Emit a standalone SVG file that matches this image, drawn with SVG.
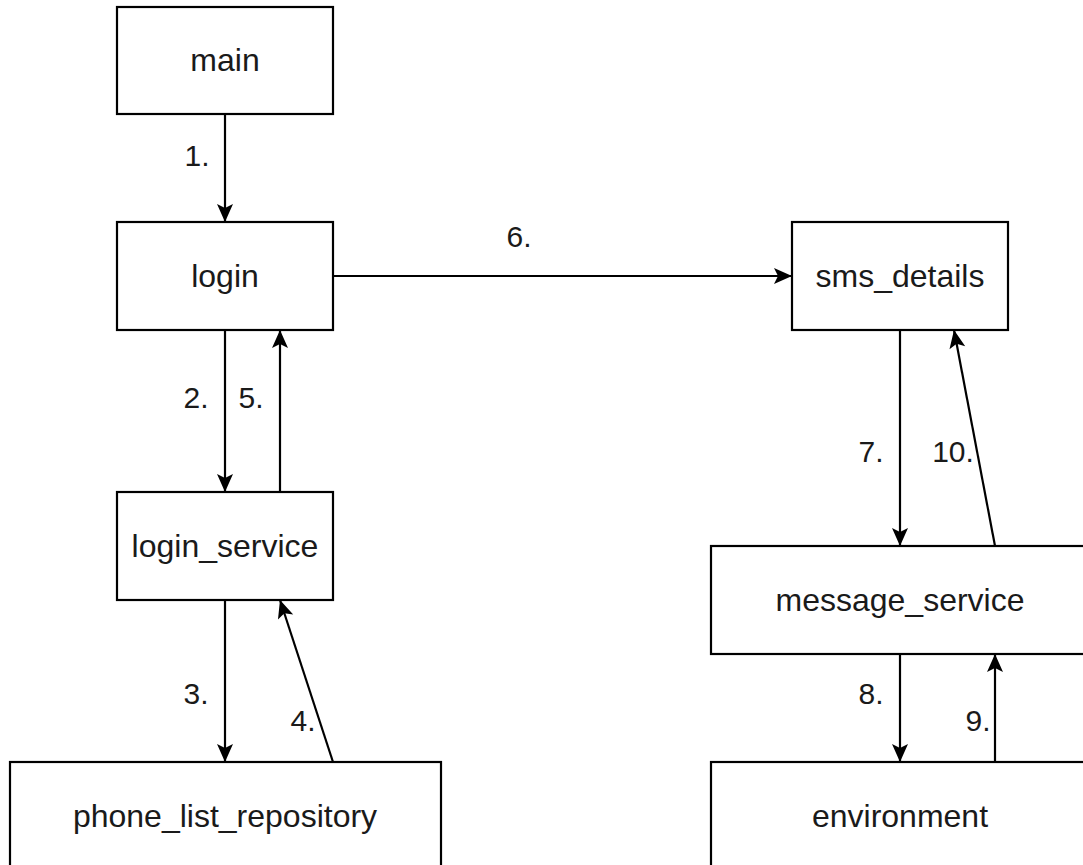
<svg xmlns="http://www.w3.org/2000/svg" width="1083" height="865" viewBox="0 0 1083 865">
<defs>
<style>
.box{fill:#fff;stroke:#000;stroke-width:2.2}
.t{font-family:"Liberation Sans",Arial,sans-serif;font-size:32px;fill:#1a1a1a;text-anchor:middle;dominant-baseline:central}
.l{font-family:"Liberation Sans",Arial,sans-serif;font-size:30px;fill:#1a1a1a;text-anchor:middle;dominant-baseline:central}
.c{fill:none;stroke:#000;stroke-width:2.2;marker-end:url(#a)}
</style>
<marker id="a" markerUnits="userSpaceOnUse" markerWidth="22" markerHeight="22" viewBox="0 0 22 22" refX="20" refY="11" orient="auto">
<path d="M2,3 L20,11 L2,19 L6,11 Z" fill="#000"/>
</marker>
</defs>
<rect width="1083" height="865" fill="#fff"/>
<g id="connectors">
<path class="c" d="M225,114 V222"/>
<path class="c" d="M225,330 V492"/>
<path class="c" d="M280,492 V330"/>
<path class="c" d="M225,600 V762"/>
<path class="c" d="M333,762 L280,600"/>
<path class="c" d="M333,276 H792"/>
<path class="c" d="M900,330 V546"/>
<path class="c" d="M995,546 L954,330"/>
<path class="c" d="M900,654 V762"/>
<path class="c" d="M995,762 V654"/>
<text class="l" x="197" y="155">1.</text>
<text class="l" x="196" y="397">2.</text>
<text class="l" x="251" y="397">5.</text>
<text class="l" x="196" y="693">3.</text>
<text class="l" x="303" y="720">4.</text>
<text class="l" x="519" y="236">6.</text>
<text class="l" x="871" y="451">7.</text>
<text class="l" x="953" y="451">10.</text>
<text class="l" x="871" y="693">8.</text>
<text class="l" x="978" y="720">9.</text>
</g>
<g id="main"><rect class="box" x="117" y="7" width="216" height="107"/><text class="t" x="225" y="60">main</text></g>
<g id="login"><rect class="box" x="117" y="222" width="216" height="108"/><text class="t" x="225" y="276">login</text></g>
<g id="login_service"><rect class="box" x="117" y="492" width="216" height="108"/><text class="t" x="225" y="546">login_service</text></g>
<g id="phone_list_repository"><rect class="box" x="10" y="762" width="431" height="120"/><text class="t" x="225" y="816">phone_list_repository</text></g>
<g id="sms_details"><rect class="box" x="792" y="222" width="216" height="108"/><text class="t" x="900" y="276">sms_details</text></g>
<g id="message_service"><rect class="box" x="711" y="546" width="400" height="108"/><text class="t" x="900" y="600">message_service</text></g>
<g id="environment"><rect class="box" x="711" y="762" width="400" height="120"/><text class="t" x="900" y="816">environment</text></g>
</svg>
